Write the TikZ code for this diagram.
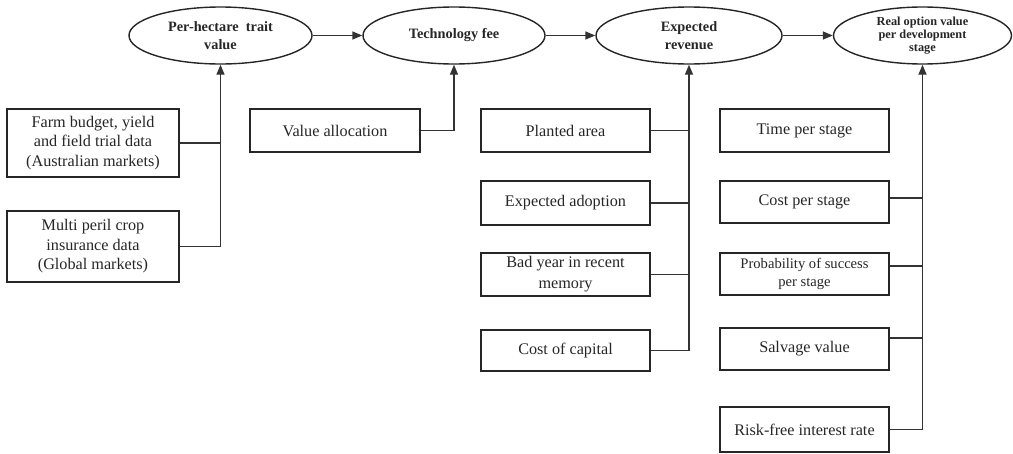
\documentclass[tikz,border=0pt]{standalone}
\usepackage{fontspec}
\setmainfont{Liberation Serif}
\usetikzlibrary{shapes.geometric,arrows.meta}
\tikzset{
  oval/.style={draw=black!85, line width=1.4pt, ellipse, inner sep=0pt, minimum height=57pt, align=center, font=\bfseries\fontsize{14.3}{18.5}\selectfont, text=black!85},
  boxnode/.style={draw=black!85, line width=1.4pt, rectangle, inner sep=0pt, minimum width=170pt, align=center, font=\fontsize{16.2}{19.5}\selectfont, text=black!85},
  conn/.style={draw=black!80, line width=1.4pt},
  arr/.style={conn, -{Triangle[length=10pt,width=8pt]}}
}
\begin{document}
\begin{tikzpicture}[x=1pt,y=-1pt]
\useasboundingbox (0,0) rectangle (1013,453);
% ellipses
\node[oval, minimum width=183pt] (per) at (220.5,35.5) {Per-hectare\ \ trait\\value};
\node[oval, minimum width=182pt] (tech) at (454,35.5) {Technology fee};
\node[oval, minimum width=186pt] (exprev) at (689,35.5) {Expected\\revenue};
\node[oval, minimum width=178pt, font=\bfseries\fontsize{12.3}{13}\selectfont] (real) at (922.5,35.5) {Real option value\\per development\\stage};
% left boxes
\node[boxnode, minimum width=172pt, minimum height=68pt] (farm) at (93,143) {Farm budget, yield\\and field trial data\\(Australian markets)};
\node[boxnode, minimum width=172pt, minimum height=71pt] (multi) at (93,246.5) {Multi peril crop\\insurance data\\(Global markets)};
\node[boxnode, minimum height=43pt] (valloc) at (335,130.5) {Value allocation};
% expected revenue inputs
\node[boxnode, minimum width=169pt, minimum height=43pt] (planted) at (565.5,130.5) {Planted area};
\node[boxnode, minimum width=169pt, minimum height=44pt] (adopt) at (565.5,203) {Expected adoption};
\node[boxnode, minimum width=169pt, minimum height=43pt, font=\fontsize{16.2}{21}\selectfont] (bad) at (565.5,274.5) {Bad year in recent\\memory};
\node[boxnode, minimum width=169pt, minimum height=41pt] (capital) at (565.5,350.5) {Cost of capital};
% real option inputs
\node[boxnode, minimum width=169pt, minimum height=43pt] (time) at (804.5,130.5) {Time per stage};
\node[boxnode, minimum width=169pt, minimum height=42pt] (cost) at (804.5,202) {Cost per stage};
\node[boxnode, minimum width=169pt, minimum height=42pt, font=\fontsize{14.6}{18}\selectfont] (prob) at (804.5,274) {Probability of success\\per stage};
\node[boxnode, minimum width=169pt, minimum height=42pt] (salv) at (804.5,349) {Salvage value};
\node[boxnode, minimum width=169pt, minimum height=45pt] (risk) at (804.5,429.5) {Risk-free interest rate};
% main chain
\draw[arr] (per.east) -- (tech.west);
\draw[arr] (tech.east) -- (exprev.west);
\draw[arr] (exprev.east) -- (real.west);
% per-hectare inputs
\draw[arr] (multi.east) -| (per.south);
\draw[conn] (farm.east) -- (farm.east -| per.south);
% technology fee input
\draw[arr] (valloc.east) -| (tech.south);
% expected revenue inputs
\draw[arr] (capital.east) -| (exprev.south);
\draw[conn] (planted.east) -- (planted.east -| exprev.south);
\draw[conn] (adopt.east) -- (adopt.east -| exprev.south);
\draw[conn] (bad.east) -- (bad.east -| exprev.south);
% real option inputs
\draw[arr] (risk.east) -| (real.south);
\draw[conn] ([yshift=4pt]cost.east) -- ([yshift=4pt]cost.east -| real.south);
\draw[conn] ([yshift=8pt]prob.east) -- ([yshift=8pt]prob.east -| real.south);
\draw[conn] ([yshift=11pt]salv.east) -- ([yshift=11pt]salv.east -| real.south);
\end{tikzpicture}
\end{document}
